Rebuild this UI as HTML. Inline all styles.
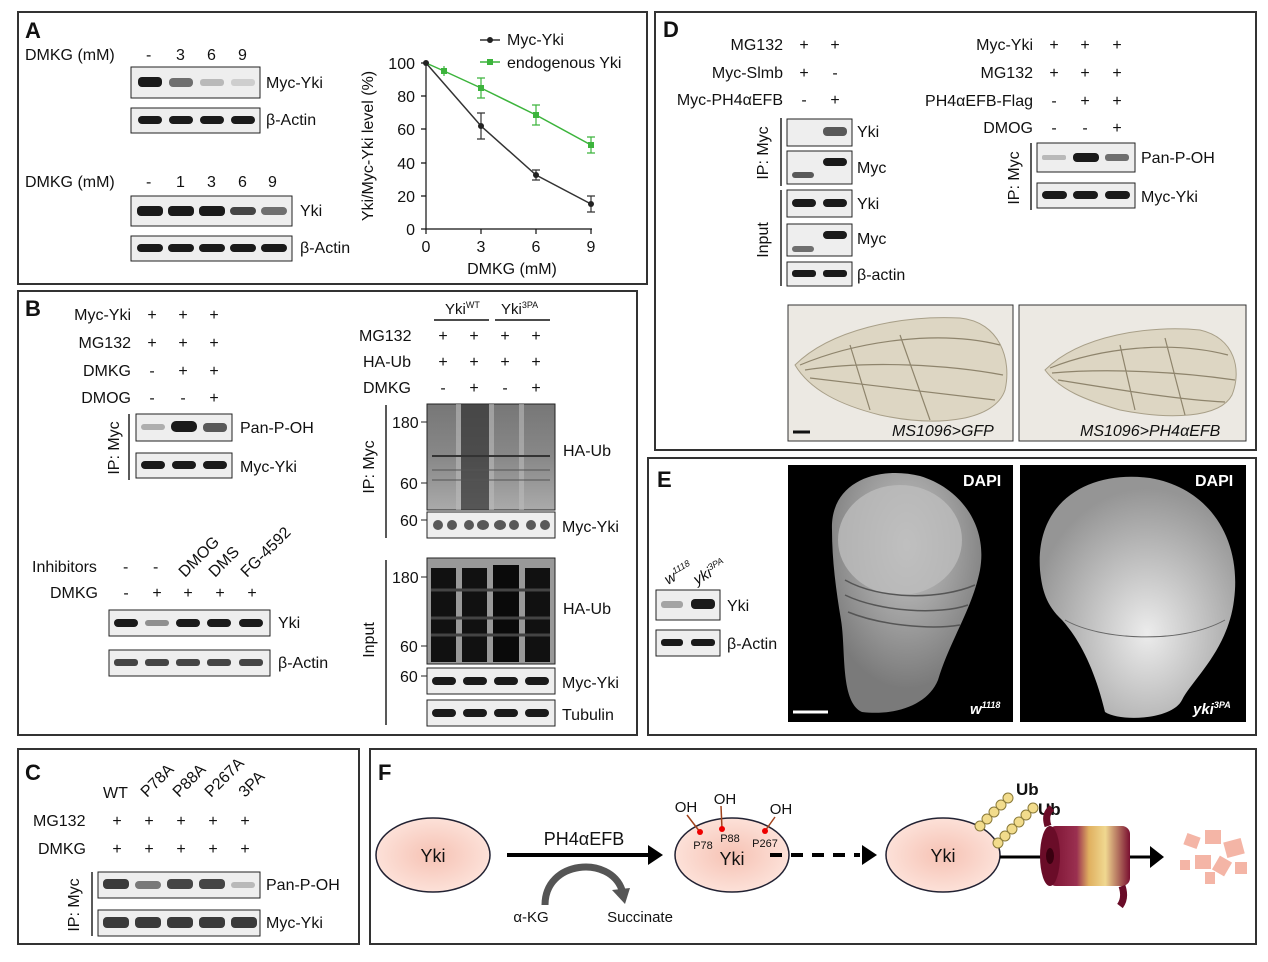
<!DOCTYPE html>
<html><head><meta charset="utf-8"><style>
html,body{margin:0;padding:0;background:#fff;}
svg{display:block;font-family:"Liberation Sans",Arial,sans-serif;}
.b{fill:#eeeeee;stroke:#222;stroke-width:1;}
.k{fill:#1a1a1a;}
text{fill:#111;}
</style></head><body>
<svg width="1268" height="962" viewBox="0 0 1268 962" xmlns="http://www.w3.org/2000/svg">
<defs>
<radialGradient id="cell" cx="50%" cy="50%" r="55%"><stop offset="0" stop-color="#f6c2b4"/><stop offset="1" stop-color="#fde4dc"/></radialGradient>
<radialGradient id="d1" cx="50%" cy="30%" r="60%"><stop offset="0" stop-color="#c8c8c8"/><stop offset="1" stop-color="#7a7a7a"/></radialGradient>
<radialGradient id="d2" cx="55%" cy="65%" r="60%"><stop offset="0" stop-color="#ececec"/><stop offset="1" stop-color="#959595"/></radialGradient>
<linearGradient id="prot" x1="0" x2="1"><stop offset="0" stop-color="#7a1030"/><stop offset=".35" stop-color="#9a3050"/><stop offset=".5" stop-color="#e0b060"/><stop offset=".7" stop-color="#f0d890"/><stop offset="1" stop-color="#7a1030"/></linearGradient>
<linearGradient id="smear" x1="0" y1="0" x2="0" y2="1"><stop offset="0" stop-color="#777"/><stop offset=".5" stop-color="#888"/><stop offset="1" stop-color="#aaa"/></linearGradient>
</defs>
<g fill="none" stroke="#333" stroke-width="2">
<rect x="18" y="12" width="629" height="272"/>
<rect x="18" y="291" width="619" height="444"/>
<rect x="18" y="749" width="341" height="195"/>
<rect x="655" y="12" width="601" height="438"/>
<rect x="648" y="458" width="608" height="277"/>
<rect x="370" y="749" width="886" height="195"/>
</g>

<!-- Panel A -->
<g font-size="16">
<text x="25" y="38" font-size="22" font-weight="bold">A</text>
<text x="25" y="60">DMKG (mM)</text>
<text x="146" y="60">-</text><text x="176" y="60">3</text><text x="207" y="60">6</text><text x="238" y="60">9</text>
<rect class="b" x="131" y="67" width="129" height="31"/>
<rect class="k" x="138" y="77" width="24" height="10" rx="4"/>
<rect class="k" x="169" y="78" width="24" height="9" rx="4" opacity=".6"/>
<rect class="k" x="200" y="79" width="24" height="7" rx="3" opacity=".25"/>
<rect class="k" x="231" y="79" width="24" height="7" rx="3" opacity=".15"/>
<text x="266" y="88">Myc-Yki</text>
<rect class="b" x="131" y="108" width="129" height="25"/>
<rect class="k" x="138" y="116" width="24" height="8" rx="4"/><rect class="k" x="169" y="116" width="24" height="8" rx="4"/><rect class="k" x="200" y="116" width="24" height="8" rx="4"/><rect class="k" x="231" y="116" width="24" height="8" rx="4"/>
<text x="266" y="125">β-Actin</text>
<text x="25" y="187">DMKG (mM)</text>
<text x="146" y="187">-</text><text x="176" y="187">1</text><text x="207" y="187">3</text><text x="238" y="187">6</text><text x="268" y="187">9</text>
<rect class="b" x="131" y="196" width="161" height="30"/>
<rect class="k" x="137" y="206" width="26" height="10" rx="4"/><rect class="k" x="168" y="206" width="26" height="10" rx="4"/><rect class="k" x="199" y="206" width="26" height="10" rx="4"/><rect class="k" x="230" y="207" width="26" height="8" rx="4" opacity=".8"/><rect class="k" x="261" y="207" width="26" height="8" rx="4" opacity=".6"/>
<text x="300" y="216">Yki</text>
<rect class="b" x="131" y="236" width="161" height="25"/>
<rect class="k" x="137" y="244" width="26" height="8" rx="4"/><rect class="k" x="168" y="244" width="26" height="8" rx="4"/><rect class="k" x="199" y="244" width="26" height="8" rx="4"/><rect class="k" x="230" y="244" width="26" height="8" rx="4"/><rect class="k" x="261" y="244" width="26" height="8" rx="4"/>
<text x="300" y="253">β-Actin</text>
<g stroke="#111" stroke-width="1.2" fill="none">
<path d="M426,63 V229 H592"/>
<path d="M421,63H426M421,96H426M421,129H426M421,163H426M421,196H426M421,229H426"/>
<path d="M426,229v5M481,229v5M536,229v5M591,229v5"/>
</g>
<g text-anchor="end"><text x="415" y="69">100</text><text x="415" y="102">80</text><text x="415" y="135">60</text><text x="415" y="169">40</text><text x="415" y="202">20</text><text x="415" y="235">0</text></g>
<g text-anchor="middle"><text x="426" y="252">0</text><text x="481" y="252">3</text><text x="536" y="252">6</text><text x="591" y="252">9</text><text x="512" y="274">DMKG (mM)</text></g>
<text transform="translate(373,146) rotate(-90)" text-anchor="middle">Yki/Myc-Yki level (%)</text>
<polyline points="426,63 481,126 536,175 591,204" fill="none" stroke="#333" stroke-width="1.5"/>
<polyline points="426,63 444,71 481,88 536,115 591,145" fill="none" stroke="#3cb43c" stroke-width="1.5"/>
<g stroke="#333" stroke-width="1.2"><path d="M481,113V139M477,113h8M477,139h8M536,170V180M532,170h8M532,180h8M591,196V212M587,196h8M587,212h8"/></g>
<g stroke="#3cb43c" stroke-width="1.2"><path d="M444,66V76M481,78V98M477,78h8M477,98h8M536,105V125M532,105h8M532,125h8M591,137V153M587,137h8M587,153h8"/></g>
<g fill="#222"><circle cx="426" cy="63" r="3"/><circle cx="481" cy="126" r="3"/><circle cx="536" cy="175" r="3"/><circle cx="591" cy="204" r="3"/></g>
<g fill="#3cb43c"><rect x="441" y="68" width="6" height="6"/><rect x="478" y="85" width="6" height="6"/><rect x="533" y="112" width="6" height="6"/><rect x="588" y="142" width="6" height="6"/></g>
<path d="M480,40h20" stroke="#333" stroke-width="1.5"/><circle cx="490" cy="40" r="3" fill="#222"/>
<text x="507" y="45">Myc-Yki</text>
<path d="M480,62h20" stroke="#3cb43c" stroke-width="1.5"/><rect x="487" y="59" width="6" height="6" fill="#3cb43c"/>
<text x="507" y="68">endogenous Yki</text>
</g>

<!-- Panel B -->
<g font-size="16">
<text x="25" y="316" font-size="22" font-weight="bold">B</text>
<g text-anchor="end"><text x="131" y="320">Myc-Yki</text><text x="131" y="348">MG132</text><text x="131" y="376">DMKG</text><text x="131" y="403">DMOG</text></g>
<g text-anchor="middle">
<text x="152" y="320">+</text><text x="183" y="320">+</text><text x="214" y="320">+</text>
<text x="152" y="348">+</text><text x="183" y="348">+</text><text x="214" y="348">+</text>
<text x="152" y="376">-</text><text x="183" y="376">+</text><text x="214" y="376">+</text>
<text x="152" y="403">-</text><text x="183" y="403">-</text><text x="214" y="403">+</text>
</g>
<text transform="translate(119,448) rotate(-90)" text-anchor="middle">IP: Myc</text>
<path d="M129,414V480" stroke="#222" stroke-width="1.5"/>
<rect class="b" x="136" y="414" width="96" height="27"/>
<rect class="k" x="141" y="424" width="24" height="6" rx="3" opacity=".3"/><rect class="k" x="171" y="421" width="26" height="11" rx="5"/><rect class="k" x="203" y="423" width="24" height="9" rx="4" opacity=".7"/>
<text x="240" y="433">Pan-P-OH</text>
<rect class="b" x="136" y="453" width="96" height="25"/>
<rect class="k" x="141" y="461" width="24" height="8" rx="4"/><rect class="k" x="172" y="461" width="24" height="8" rx="4"/><rect class="k" x="203" y="461" width="24" height="8" rx="4"/>
<text x="240" y="472">Myc-Yki</text>
<text transform="translate(185,578) rotate(-45)">DMOG</text>
<text transform="translate(215,578) rotate(-45)">DMS</text>
<text transform="translate(247,578) rotate(-45)">FG-4592</text>
<text x="32" y="572">Inhibitors</text>
<text x="123" y="572">-</text><text x="153" y="572">-</text>
<text x="50" y="598">DMKG</text>
<g text-anchor="middle"><text x="126" y="598">-</text><text x="157" y="598">+</text><text x="188" y="598">+</text><text x="220" y="598">+</text><text x="252" y="598">+</text></g>
<rect class="b" x="109" y="610" width="161" height="26"/>
<rect class="k" x="114" y="619" width="24" height="8" rx="4"/><rect class="k" x="145" y="620" width="24" height="6" rx="3" opacity=".45"/><rect class="k" x="176" y="619" width="24" height="8" rx="4"/><rect class="k" x="207" y="619" width="24" height="8" rx="4"/><rect class="k" x="239" y="619" width="24" height="8" rx="4"/>
<text x="278" y="628">Yki</text>
<rect class="b" x="109" y="650" width="161" height="26"/>
<rect class="k" x="114" y="659" width="24" height="7" rx="3" opacity=".8"/><rect class="k" x="145" y="659" width="24" height="7" rx="3" opacity=".8"/><rect class="k" x="176" y="659" width="24" height="7" rx="3" opacity=".8"/><rect class="k" x="207" y="659" width="24" height="7" rx="3" opacity=".8"/><rect class="k" x="239" y="659" width="24" height="7" rx="3" opacity=".8"/>
<text x="278" y="668">β-Actin</text>
<text x="445" y="314" font-size="15">Yki<tspan font-size="9" dy="-6">WT</tspan></text>
<text x="501" y="314" font-size="15">Yki<tspan font-size="9" dy="-6">3PA</tspan></text>
<path d="M434,320H489M495,320H550" stroke="#111" stroke-width="1.5"/>
<text x="359" y="341">MG132</text><text x="363" y="367">HA-Ub</text><text x="363" y="393">DMKG</text>
<g text-anchor="middle">
<text x="443" y="341">+</text><text x="474" y="341">+</text><text x="505" y="341">+</text><text x="536" y="341">+</text>
<text x="443" y="367">+</text><text x="474" y="367">+</text><text x="505" y="367">+</text><text x="536" y="367">+</text>
<text x="443" y="393">-</text><text x="474" y="393">+</text><text x="505" y="393">-</text><text x="536" y="393">+</text>
</g>
<path d="M386,405V538M386,560V725" stroke="#222" stroke-width="1.5"/>
<text transform="translate(374,467) rotate(-90)" text-anchor="middle">IP: Myc</text>
<text transform="translate(374,640) rotate(-90)" text-anchor="middle">Input</text>
<rect x="427" y="404" width="128" height="106" fill="url(#smear)" stroke="#222"/>
<rect x="461" y="404" width="28" height="106" fill="#333" opacity=".7"/>
<rect x="456" y="404" width="5" height="106" fill="#bbb" opacity=".6"/>
<rect x="489" y="404" width="5" height="106" fill="#bbb" opacity=".6"/>
<rect x="519" y="404" width="5" height="106" fill="#bbb" opacity=".6"/>
<path d="M432,456H550" stroke="#333" stroke-width="2"/>
<path d="M432,470H550M432,480H550" stroke="#555" stroke-width="2" opacity=".5"/>
<text x="392" y="428">180</text><text x="400" y="489">60</text>
<path d="M421,422h6M421,483h6M421,520h6M421,577h6M421,646h6M421,676h6" stroke="#222"/>
<text x="563" y="456">HA-Ub</text>
<rect class="b" x="427" y="512" width="128" height="26"/>
<g class="k" opacity=".7"><ellipse cx="438" cy="525" rx="5" ry="5"/><ellipse cx="452" cy="525" rx="5" ry="5"/><ellipse cx="469" cy="525" rx="5" ry="5"/><ellipse cx="483" cy="525" rx="6" ry="5"/><ellipse cx="500" cy="525" rx="6" ry="5"/><ellipse cx="514" cy="525" rx="5" ry="5"/><ellipse cx="531" cy="525" rx="5" ry="5"/><ellipse cx="545" cy="525" rx="5" ry="5"/></g>
<text x="400" y="526">60</text>
<text x="562" y="532">Myc-Yki</text>
<rect class="b" x="427" y="558" width="128" height="106" style="fill:#999"/>
<rect x="431" y="568" width="25" height="94" fill="#111"/><rect x="462" y="568" width="25" height="94" fill="#111"/><rect x="493" y="565" width="26" height="97" fill="#0a0a0a"/><rect x="525" y="568" width="25" height="94" fill="#111"/>
<path d="M431,590H550M431,618H550M431,635H550" stroke="#444" stroke-width="3"/>
<text x="392" y="583">180</text><text x="400" y="652">60</text>
<text x="563" y="614">HA-Ub</text>
<rect class="b" x="427" y="668" width="128" height="26"/>
<rect class="k" x="432" y="677" width="24" height="8" rx="4"/><rect class="k" x="463" y="677" width="24" height="8" rx="4"/><rect class="k" x="494" y="677" width="24" height="8" rx="4"/><rect class="k" x="525" y="677" width="24" height="8" rx="4"/>
<text x="400" y="682">60</text>
<text x="562" y="688">Myc-Yki</text>
<rect class="b" x="427" y="700" width="128" height="26"/>
<rect class="k" x="432" y="709" width="24" height="8" rx="4"/><rect class="k" x="463" y="709" width="24" height="8" rx="4"/><rect class="k" x="494" y="709" width="24" height="8" rx="4"/><rect class="k" x="525" y="709" width="24" height="8" rx="4"/>
<text x="562" y="720">Tubulin</text>
</g>

<!-- Panel C -->
<g font-size="16">
<text x="25" y="780" font-size="22" font-weight="bold">C</text>
<text x="103" y="798">WT</text>
<text transform="translate(147,798) rotate(-45)">P78A</text>
<text transform="translate(179,798) rotate(-45)">P88A</text>
<text transform="translate(211,798) rotate(-45)">P267A</text>
<text transform="translate(245,798) rotate(-45)">3PA</text>
<text x="33" y="826">MG132</text><text x="38" y="854">DMKG</text>
<g text-anchor="middle">
<text x="117" y="826">+</text><text x="149" y="826">+</text><text x="181" y="826">+</text><text x="213" y="826">+</text><text x="245" y="826">+</text>
<text x="117" y="854">+</text><text x="149" y="854">+</text><text x="181" y="854">+</text><text x="213" y="854">+</text><text x="245" y="854">+</text>
</g>
<text transform="translate(79,905) rotate(-90)" text-anchor="middle">IP: Myc</text>
<path d="M92,872V936" stroke="#222" stroke-width="1.5"/>
<rect class="b" x="98" y="872" width="162" height="26"/>
<rect class="k" x="103" y="879" width="26" height="10" rx="4" opacity=".85"/><rect class="k" x="135" y="881" width="26" height="8" rx="4" opacity=".55"/><rect class="k" x="167" y="879" width="26" height="10" rx="4" opacity=".8"/><rect class="k" x="199" y="879" width="26" height="10" rx="4" opacity=".8"/><rect class="k" x="231" y="882" width="24" height="6" rx="3" opacity=".25"/>
<text x="266" y="890">Pan-P-OH</text>
<rect class="b" x="98" y="910" width="162" height="26"/>
<rect class="k" x="103" y="917" width="26" height="11" rx="4" opacity=".85"/><rect class="k" x="135" y="917" width="26" height="11" rx="4" opacity=".85"/><rect class="k" x="167" y="917" width="26" height="11" rx="4" opacity=".85"/><rect class="k" x="199" y="917" width="26" height="11" rx="4" opacity=".85"/><rect class="k" x="231" y="917" width="26" height="11" rx="4" opacity=".85"/>
<text x="266" y="928">Myc-Yki</text>
</g>

<!-- Panel D -->
<g font-size="16">
<text x="663" y="37" font-size="22" font-weight="bold">D</text>
<g text-anchor="end"><text x="783" y="50">MG132</text><text x="783" y="78">Myc-Slmb</text><text x="783" y="105">Myc-PH4αEFB</text></g>
<g text-anchor="middle"><text x="804" y="50">+</text><text x="835" y="50">+</text><text x="804" y="78">+</text><text x="835" y="78">-</text><text x="804" y="105">-</text><text x="835" y="105">+</text></g>
<text transform="translate(768,153) rotate(-90)" text-anchor="middle">IP: Myc</text>
<text transform="translate(768,240) rotate(-90)" text-anchor="middle">Input</text>
<path d="M781,118V186M781,190V286" stroke="#222" stroke-width="1.5"/>
<rect class="b" x="787" y="119" width="65" height="27"/><rect class="k" x="823" y="127" width="24" height="9" rx="4" opacity=".7"/>
<text x="857" y="137">Yki</text>
<rect class="b" x="787" y="151" width="65" height="33"/><rect class="k" x="792" y="172" width="22" height="6" rx="3" opacity=".7"/><rect class="k" x="823" y="158" width="24" height="8" rx="4"/>
<text x="857" y="173">Myc</text>
<rect class="b" x="787" y="190" width="65" height="27"/><rect class="k" x="792" y="199" width="24" height="8" rx="4"/><rect class="k" x="823" y="199" width="24" height="8" rx="4"/>
<text x="857" y="209">Yki</text>
<rect class="b" x="787" y="224" width="65" height="32"/><rect class="k" x="792" y="246" width="22" height="6" rx="3" opacity=".6"/><rect class="k" x="823" y="231" width="24" height="8" rx="4"/>
<text x="857" y="244">Myc</text>
<rect class="b" x="787" y="262" width="65" height="24"/><rect class="k" x="792" y="270" width="24" height="7" rx="3"/><rect class="k" x="823" y="270" width="24" height="7" rx="3"/>
<text x="857" y="280">β-actin</text>
<g text-anchor="end"><text x="1033" y="50">Myc-Yki</text><text x="1033" y="78">MG132</text><text x="1033" y="106">PH4αEFB-Flag</text><text x="1033" y="133">DMOG</text></g>
<g text-anchor="middle">
<text x="1054" y="50">+</text><text x="1085" y="50">+</text><text x="1117" y="50">+</text>
<text x="1054" y="78">+</text><text x="1085" y="78">+</text><text x="1117" y="78">+</text>
<text x="1054" y="106">-</text><text x="1085" y="106">+</text><text x="1117" y="106">+</text>
<text x="1054" y="133">-</text><text x="1085" y="133">-</text><text x="1117" y="133">+</text>
</g>
<text transform="translate(1019,178) rotate(-90)" text-anchor="middle">IP: Myc</text>
<path d="M1031,143V210" stroke="#222" stroke-width="1.5"/>
<rect class="b" x="1037" y="143" width="98" height="29"/><rect class="k" x="1042" y="155" width="24" height="5" rx="2" opacity=".25"/><rect class="k" x="1073" y="153" width="26" height="9" rx="4"/><rect class="k" x="1105" y="154" width="24" height="7" rx="3" opacity=".6"/>
<text x="1141" y="163">Pan-P-OH</text>
<rect class="b" x="1037" y="183" width="98" height="25"/><rect class="k" x="1042" y="191" width="25" height="8" rx="4"/><rect class="k" x="1073" y="191" width="25" height="8" rx="4"/><rect class="k" x="1105" y="191" width="25" height="8" rx="4"/>
<text x="1141" y="202">Myc-Yki</text>
<rect x="788" y="305" width="225" height="136" fill="#ece9e3" stroke="#333"/>
<rect x="1019" y="305" width="227" height="136" fill="#ece9e3" stroke="#333"/>
<path d="M795,365 C830,330 900,315 960,318 C1000,322 1012,360 1005,390 C995,420 940,428 880,415 C840,405 810,390 795,365 Z" fill="#ddd6c3" stroke="#a89f88"/>
<path d="M800,365 C860,340 940,330 1000,345 M805,370 C870,360 950,365 1003,375 M810,378 C870,385 950,395 995,400 M850,345 L870,410 M900,335 L930,420" fill="none" stroke="#8e846c" stroke-width="1.2"/>
<path d="M1045,370 C1080,335 1150,325 1200,330 C1235,338 1242,370 1232,395 C1220,418 1170,420 1120,410 C1085,400 1060,390 1045,370 Z" fill="#ddd6c3" stroke="#a89f88"/>
<path d="M1050,368 C1100,348 1170,340 1228,355 M1052,373 C1110,368 1180,372 1235,380 M1058,380 C1120,390 1180,400 1225,402 M1120,345 L1135,410 M1165,338 L1185,415" fill="none" stroke="#8e846c" stroke-width="1.2"/>
<path d="M793,432H810" stroke="#111" stroke-width="3"/>
<text x="892" y="436" font-style="italic">MS1096&gt;GFP</text>
<text x="1080" y="436" font-style="italic">MS1096&gt;PH4αEFB</text>
</g>

<!-- Panel E -->
<g font-size="16">
<text x="657" y="487" font-size="22" font-weight="bold">E</text>
<text transform="translate(668,585) rotate(-30)" font-style="italic" font-size="15">w<tspan font-size="9" dy="-6">1118</tspan></text>
<text transform="translate(697,585) rotate(-30)" font-style="italic" font-size="15">yki<tspan font-size="9" dy="-6">3PA</tspan></text>
<rect class="b" x="656" y="590" width="64" height="30"/><rect class="k" x="661" y="601" width="22" height="7" rx="3" opacity=".35"/><rect class="k" x="691" y="599" width="24" height="10" rx="4"/>
<text x="727" y="611">Yki</text>
<rect class="b" x="656" y="630" width="64" height="26"/><rect class="k" x="661" y="639" width="22" height="7" rx="3"/><rect class="k" x="691" y="639" width="24" height="7" rx="3"/>
<text x="727" y="649">β-Actin</text>
<rect x="788" y="465" width="225" height="257" fill="#000"/>
<rect x="1020" y="465" width="226" height="257" fill="#000"/>
<path d="M832,530 C830,480 880,466 920,476 C960,488 988,525 980,570 C972,610 950,640 938,680 C928,705 895,716 862,712 C840,702 846,650 841,620 C836,590 832,560 832,530 Z" fill="url(#d1)"/>
<ellipse cx="900" cy="540" rx="62" ry="55" fill="#bdbdbd" opacity=".8"/>
<path d="M845,580 C880,600 940,600 975,585 M845,595 C880,612 940,615 968,605 M848,612 C880,625 930,630 960,625" fill="none" stroke="#555" stroke-width="1.5"/>
<path d="M1040,570 C1035,500 1090,470 1150,478 C1210,488 1242,540 1234,600 C1228,650 1192,680 1182,700 C1172,720 1120,722 1105,712 C1095,670 1080,640 1062,620 C1046,605 1042,590 1040,570 Z" fill="url(#d2)"/>
<path d="M1065,620 C1100,640 1180,645 1225,620" fill="none" stroke="#666" stroke-width="1"/>
<text x="963" y="486" font-weight="bold" style="fill:#fff">DAPI</text>
<text x="1195" y="486" font-weight="bold" style="fill:#fff">DAPI</text>
<path d="M793,712H828" stroke="#fff" stroke-width="3"/>
<text x="970" y="714" font-weight="bold" font-style="italic" style="fill:#fff" font-size="15">w<tspan font-size="9" dy="-6">1118</tspan></text>
<text x="1193" y="714" font-weight="bold" font-style="italic" style="fill:#fff" font-size="15">yki<tspan font-size="9" dy="-6">3PA</tspan></text>
</g>

<!-- Panel F -->
<g font-size="18">
<text x="378" y="780" font-size="22" font-weight="bold">F</text>
<ellipse cx="433" cy="855" rx="57" ry="37" fill="url(#cell)" stroke="#223" stroke-width="1.5"/>
<text x="433" y="862" text-anchor="middle">Yki</text>
<path d="M507,855H650" stroke="#000" stroke-width="4"/><path d="M648,845L663,855L648,865Z" fill="#000"/>
<text x="584" y="845" text-anchor="middle">PH4αEFB</text>
<path d="M545,905 C545,860 610,855 622,890" fill="none" stroke="#555" stroke-width="7"/>
<path d="M612,890L630,888L625,904Z" fill="#555"/>
<text x="531" y="922" text-anchor="middle" font-size="15">α-KG</text>
<text x="640" y="922" text-anchor="middle" font-size="15">Succinate</text>
<ellipse cx="732" cy="855" rx="57" ry="37" fill="url(#cell)" stroke="#223" stroke-width="1.5"/>
<path d="M700,832L687,815M722,829L721,806M765,831L775,817" stroke="#a0421c" stroke-width="1.5"/>
<circle cx="700" cy="832" r="3" fill="#e00"/><circle cx="722" cy="829" r="3" fill="#e00"/><circle cx="765" cy="831" r="3" fill="#e00"/>
<text x="686" y="812" text-anchor="middle" font-size="15">OH</text>
<text x="725" y="804" text-anchor="middle" font-size="15">OH</text>
<text x="781" y="814" text-anchor="middle" font-size="15">OH</text>
<text x="703" y="849" text-anchor="middle" font-size="11">P78</text>
<text x="730" y="842" text-anchor="middle" font-size="11">P88</text>
<text x="765" y="847" text-anchor="middle" font-size="11">P267</text>
<text x="732" y="865" text-anchor="middle">Yki</text>
<path d="M770,855H860" stroke="#000" stroke-width="4" stroke-dasharray="12,9"/><path d="M862,845L877,855L862,865Z" fill="#000"/>
<ellipse cx="943" cy="855" rx="57" ry="37" fill="url(#cell)" stroke="#223" stroke-width="1.5"/>
<text x="943" y="862" text-anchor="middle">Yki</text>
<g fill="#f2dc8c" stroke="#8a7a3a" stroke-width="1">
<circle cx="980" cy="826" r="5"/><circle cx="987" cy="819" r="5"/><circle cx="994" cy="812" r="5"/><circle cx="1001" cy="805" r="5"/><circle cx="1008" cy="798" r="5"/>
<circle cx="998" cy="843" r="5"/><circle cx="1005" cy="836" r="5"/><circle cx="1012" cy="829" r="5"/><circle cx="1019" cy="822" r="5"/><circle cx="1026" cy="815" r="5"/><circle cx="1033" cy="808" r="5"/>
</g>
<text x="1016" y="795" font-weight="bold" font-size="17">Ub</text>
<text x="1038" y="815" font-weight="bold" font-size="17">Ub</text>
<path d="M1000,857H1150" stroke="#000" stroke-width="3"/>
<rect x="1048" y="826" width="82" height="60" rx="8" fill="url(#prot)"/>
<ellipse cx="1050" cy="856" rx="10" ry="30" fill="#6a0c28"/>
<ellipse cx="1050" cy="856" rx="4" ry="8" fill="#3a0010"/>
<path d="M1048,826 q-4,-12 4,-18 M1122,886 q4,12 -2,20" stroke="#6a0c28" stroke-width="7" fill="none"/>
<path d="M1130,857H1152" stroke="#000" stroke-width="3"/><path d="M1150,846L1164,857L1150,868Z" fill="#000"/>
<g fill="#f4b5a6">
<rect x="1185" y="835" width="14" height="12" transform="rotate(20 1192 841)"/><rect x="1205" y="830" width="16" height="14"/><rect x="1225" y="840" width="18" height="16" transform="rotate(-15 1234 848)"/><rect x="1195" y="855" width="16" height="14"/><rect x="1215" y="858" width="14" height="16" transform="rotate(30 1222 866)"/><rect x="1235" y="862" width="12" height="12"/><rect x="1180" y="860" width="10" height="10"/><rect x="1205" y="872" width="10" height="12"/>
</g>
</g>
</svg>
</body></html>
